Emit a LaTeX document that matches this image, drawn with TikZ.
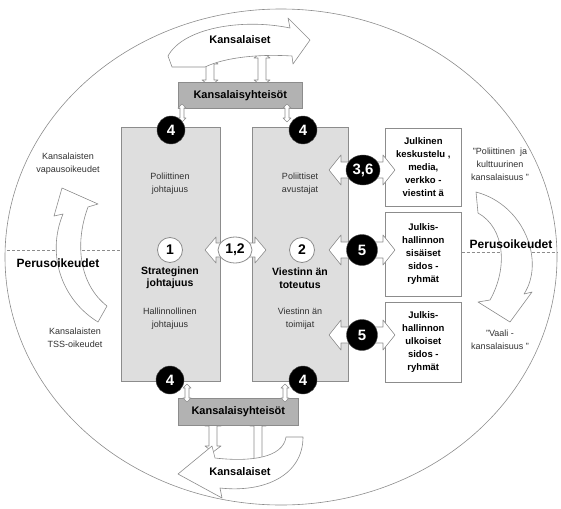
\documentclass[tikz,border=0pt]{standalone}
\usepackage{fontspec}
\setmainfont{Liberation Sans}
\usetikzlibrary{shapes.geometric}
\definecolor{boxgray}{HTML}{DEDEDE}
\definecolor{linegray}{HTML}{8C8C8C}
\definecolor{darkbox}{HTML}{B2B2B2}
\definecolor{txtgray}{HTML}{303030}
\newcommand\hdarrow[6]{% xl, xr, y, H, s, headlength
 \draw[arrowshape] (#1,#3) -- ({#1+#6},{#3-#4}) -- ({#1+#6},{#3-#5}) -- ({#2-#6},{#3-#5}) -- ({#2-#6},{#3-#4}) -- (#2,#3)
   -- ({#2-#6},{#3+#4}) -- ({#2-#6},{#3+#5}) -- ({#1+#6},{#3+#5}) -- ({#1+#6},{#3+#4}) -- cycle;}
\newcommand\vdarrow[6]{% x, yt, yb, H, s, headlength
 \draw[arrowshape] (#1,#2) -- ({#1-#4},{#2+#6}) -- ({#1-#5},{#2+#6}) -- ({#1-#5},{#3-#6}) -- ({#1-#4},{#3-#6}) -- (#1,#3)
   -- ({#1+#4},{#3-#6}) -- ({#1+#5},{#3-#6}) -- ({#1+#5},{#2+#6}) -- ({#1+#4},{#2+#6}) -- cycle;}
\begin{document}
\begin{tikzpicture}[x=1pt,y=-1pt,
 small/.style={font=\fontsize{9}{13}\selectfont, align=center, text=txtgray, inner sep=0pt},
 pbold/.style={font=\fontsize{10.5}{12.5}\selectfont\bfseries, align=center, inner sep=0pt},
 bigbold/.style={font=\fontsize{12}{14}\selectfont\bfseries, inner sep=0pt},
 kfont/.style={font=\fontsize{11}{13}\selectfont\bfseries},
 panel/.style={draw=linegray, fill=boxgray, inner sep=0pt, line width=0.6pt},
 kbox/.style={draw=linegray, fill=darkbox, inner sep=0pt, line width=0.6pt, font=\fontsize{11}{13}\selectfont\bfseries},
 whitebox/.style={draw=linegray, fill=white, inner sep=0pt, line width=0.6pt, font=\fontsize{9.5}{13}\selectfont\bfseries, align=center},
 blackdot/.style={fill=black, draw=black!70, text=white, font=\fontsize{15}{15}\selectfont\bfseries, inner sep=0pt},
 whitedot/.style={fill=white, draw=linegray, line width=0.8pt, font=\fontsize{14}{14}\selectfont\bfseries, inner sep=0pt},
 arrowshape/.style={draw=linegray, fill=white, line width=0.6pt, line join=round},
 dashline/.style={draw=linegray, dashed, dash pattern=on 3pt off 2pt, line width=0.6pt}
]
\useasboundingbox (0,0) rectangle (561,508);

% outer ellipse
\node[draw=linegray, ellipse, minimum width=552pt, minimum height=496pt, inner sep=0pt, line width=0.6pt] (world) at (281,257) {};

% right white boxes
\node[whitebox, anchor=north west, minimum width=76pt, minimum height=78pt] (wb1) at (385,128) {Julkinen\\keskustelu ,\\media,\\verkko -\\viestint ä};
\node[whitebox, anchor=north west, minimum width=76pt, minimum height=84pt] (wb2) at (385,212) {Julkis-\\hallinnon\\sisäiset\\sidos -\\ryhmät};
\node[whitebox, anchor=north west, minimum width=76pt, minimum height=80pt] (wb3) at (385,302) {Julkis-\\hallinnon\\ulkoiset\\sidos -\\ryhmät};

% panels
\node[panel, anchor=north west, minimum width=99pt, minimum height=254pt] (lp) at (121,127) {};
\node[panel, anchor=north west, minimum width=96pt, minimum height=254pt] (rp) at (252,127) {};

% dashed lines
\coordinate (lw) at (7,250);
\coordinate (re) at (557,252);
\draw[dashline] (lw) -- (lp.west |- lw);
\draw[dashline] (wb2.east |- re) -- (re);

% side crescent arrows
\draw[arrowshape] (98,322) .. controls (62,300) and (46,255) .. (63,214) -- (54,216) -- (62,188) -- (98,204) -- (88,207) .. controls (74,245) and (80,285) .. (107,306) -- cycle;
\draw[arrowshape] (476,192) .. controls (525,205) and (545,262) .. (524,294) -- (532,292) -- (510,322) -- (478,302) -- (490,300) .. controls (508,268) and (505,228) .. (478,213) -- cycle;

% side texts
\node[small] (kv) at (68,164) {Kansalaisten\\vapausoikeudet};
\node[small] (kt) at (75,338) {Kansalaisten\\TSS-oikeudet};
\node[bigbold] (pl) at (58,263) {Perusoikeudet};
\node[bigbold] (pr) at (511,244) {Perusoikeudet};
\node[small] (q1) at (500,164) {”Poliittinen\ \ ja\\kulttuurinen\\kansalaisuus ”};
\node[small] (q2) at (500,340) {”Vaali -\\kansalaisuus ”};

% top citizens band
\vdarrow{210}{58}{86}{8}{4}{6}
\vdarrow{262}{52}{86}{8}{4}{6}
\draw[arrowshape] (172,67) -- (168,56) .. controls (183,28) and (242,18) .. (290,28) -- (288,18) -- (310,40) -- (293,64) -- (292,56) .. controls (260,54) and (226,57) .. (205,67) -- cycle;
\node[kfont] (kt1) at (240,40) {Kansalaiset};

% bottom citizens band
\vdarrow{213}{420}{452}{8}{4}{6}
\vdarrow{258}{420}{466}{8}{4}{6}
\draw[arrowshape] (286,437) -- (303,437) .. controls (303,475) and (265,493) .. (220,488) -- (222,498) -- (178,474) -- (212,446) -- (215,458) .. controls (250,462) and (283,458) .. (286,437) -- cycle;
\node[kfont] (kb1) at (240,472) {Kansalaiset};

% Kansalaisyhteisot boxes
\node[kbox, anchor=north west, minimum width=124pt, minimum height=26pt] (ktop) at (178,82) {Kansalaisyhteisöt};
\node[kbox, anchor=north west, minimum width=120pt, minimum height=27pt] (kbot) at (178,398) {Kansalaisyhteisöt};

% small links between 4-circles and boxes
\vdarrow{182}{104}{122}{4}{2}{4}
\vdarrow{287}{104}{122}{4}{2}{4}
\vdarrow{187}{384}{402}{4}{2}{4}
\vdarrow{285}{384}{402}{4}{2}{4}

% panel texts
\node[small] (pj) at (170,184) {Poliittinen\\johtajuus};
\node[pbold] (sj) at (170,278) {Strateginen\\johtajuus};
\node[small] (hj) at (170,319) {Hallinnollinen\\johtajuus};
\node[small] (pa) at (300,184) {Poliittiset\\avustajat};
\node[pbold] (vt) at (300,278) {Viestinn än\\toteutus};
\node[small] (vj) at (300,319) {Viestinn än\\toimijat};

% double arrows
\hdarrow{205}{266}{250}{13}{7}{11}
\hdarrow{329}{395}{170}{15}{8}{12}
\hdarrow{329}{395}{250}{15}{8}{12}
\hdarrow{329}{395}{335}{15}{8}{12}

% white numbered circles
\node[whitedot, circle, minimum size=25pt] (c1) at (170,250) {1};
\node[whitedot, ellipse, minimum width=34pt, minimum height=26pt] (c12) at (235,250) {1,2};
\node[whitedot, circle, minimum size=25pt] (c2) at (302,250) {2};

% black numbered circles
\node[blackdot, circle, minimum size=28pt] (f1) at (171,130) {4};
\node[blackdot, circle, minimum size=28pt] (f2) at (303,130) {4};
\node[blackdot, circle, minimum size=28pt] (f3) at (170,380) {4};
\node[blackdot, circle, minimum size=28pt] (f4) at (303,380) {4};
\node[blackdot, ellipse, minimum width=34pt, minimum height=30pt] (c36) at (363,170) {3,6};
\node[blackdot, circle, minimum size=31pt] (c5a) at (362,250) {5};
\node[blackdot, circle, minimum size=31pt] (c5b) at (362,335) {5};
\end{tikzpicture}
\end{document}
